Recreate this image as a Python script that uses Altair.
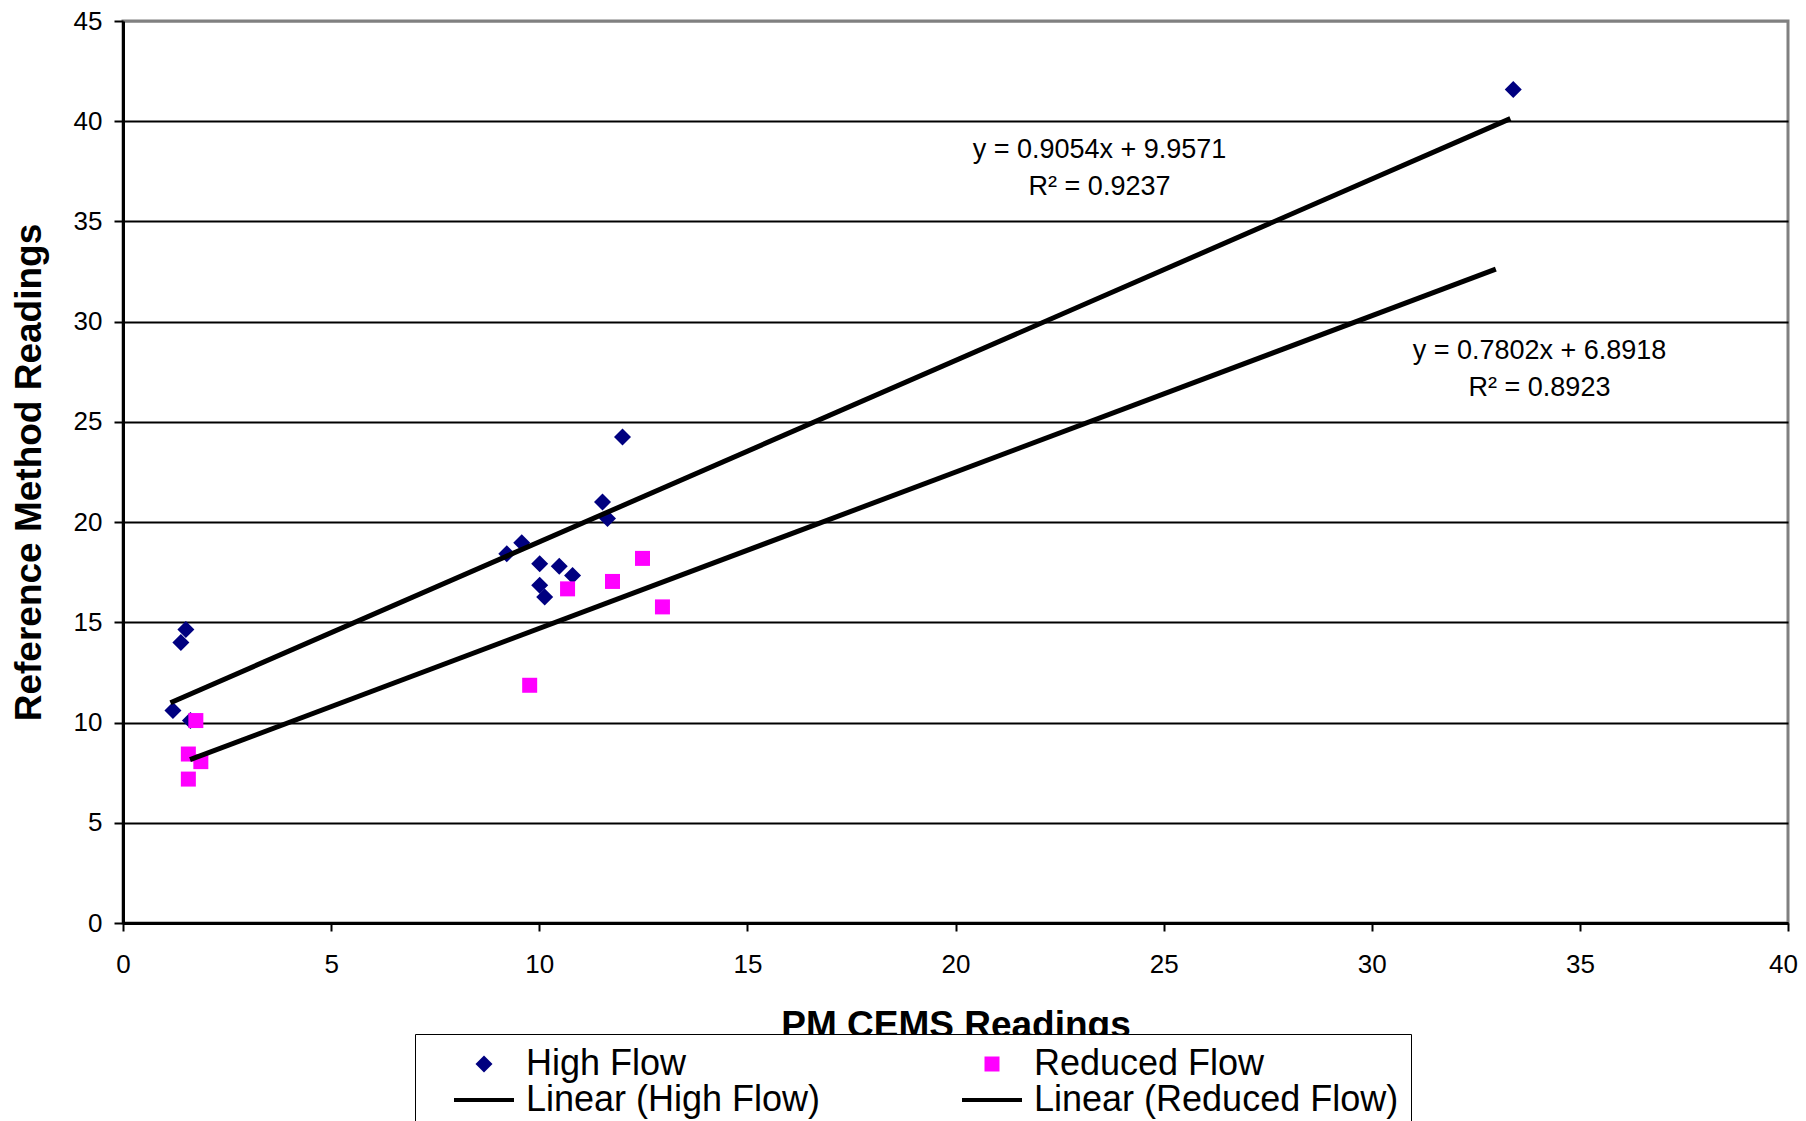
import altair as alt
import pandas as pd

# ---- data ----
high_x = [1.20, 1.39, 1.51, 1.62, 9.22, 9.58, 10.01, 10.01, 10.13, 10.48, 10.80, 11.52, 11.64, 12.00, 33.40]
high_y = [10.60, 14.00, 14.64, 10.10, 18.42, 18.97, 17.92, 16.85, 16.27, 17.80, 17.34, 21.00, 20.18, 24.25, 41.58]
red_x = [1.57, 1.57, 1.75, 1.87, 9.77, 10.68, 11.76, 12.48, 12.96]
red_y = [7.18, 8.43, 10.10, 8.05, 11.86, 16.67, 17.04, 18.19, 15.77]

# trendline end points (Excel linear trendlines)
trend_high_x = [1.14, 33.33]
trend_high_y = [10.99, 40.13]
trend_red_x = [1.61, 32.98]
trend_red_y = [8.15, 32.62]

# legend order (column-major: column 1 = high flow, column 2 = reduced flow)
series = ["High Flow", "Linear (High Flow)", "Reduced Flow", "Linear (Reduced Flow)"]
colors = ["#000080", "#000000", "#FF00FF", "#000000"]
shapes = [
    "M-0.85,0L0,-0.85L0.85,0L0,0.85Z",
    "M-3,-0.2H3V0.2H-3Z",
    "M-0.75,-0.75H0.75V0.75H-0.75Z",
    "M-3,-0.2H3V0.2H-3Z",
]

ann_text = ["y = 0.9054x + 9.9571", "R² = 0.9237", "y = 0.7802x + 6.8918", "R² = 0.8923"]
ann_x = [23.46, 23.46, 34.03, 34.03]
ann_y = [38.55, 36.70, 28.55, 26.70]

x_ticks = [0, 5, 10, 15, 20, 25, 30, 35, 40]
y_ticks = [0, 5, 10, 15, 20, 25, 30, 35, 40, 45]

# ---- tables ----
pts = pd.DataFrame({
    "x": high_x + red_x,
    "y": high_y + red_y,
    "series": ["High Flow"] * len(high_x) + ["Reduced Flow"] * len(red_x),
})
lines = pd.DataFrame({
    "x": trend_high_x + trend_red_x,
    "y": trend_high_y + trend_red_y,
    "series": ["Linear (High Flow)"] * 2 + ["Linear (Reduced Flow)"] * 2,
})
ann = pd.DataFrame({"x": ann_x, "y": ann_y, "text": ann_text})

FONT = "Liberation Sans"

x_enc = alt.X(
    "x:Q",
    scale=alt.Scale(domain=[0, 40], nice=False, zero=False),
    axis=alt.Axis(
        values=x_ticks, title="PM CEMS Readings", grid=False, tickSize=8,
        labelPadding=20, titlePadding=30, labelFlush=False, labelOverlap=False,
        labelOffset={"condition": {"test": "datum.value == 40", "value": -5}, "value": 0},
    ),
)
y_enc = alt.Y(
    "y:Q",
    scale=alt.Scale(domain=[0, 45], nice=False, zero=False),
    axis=alt.Axis(
        values=y_ticks, title="Reference Method Readings", grid=True, tickSize=9,
        labelPadding=12, titlePadding=25, labelFlush=False, labelOverlap=False,
        gridColor={"condition": {"test": "datum.value == 45", "value": "#808080"}, "value": "#000000"},
    ),
)

legend_obj = alt.Legend(
    title=None,
    orient="none",
    legendX=292,
    legendY=1013,
    columns=2,
    columnPadding=114,
    rowPadding=0,
    padding=12,
    symbolSize=400,
    symbolOffset=39,
    symbolStrokeWidth=0,
    symbolOpacity=1,
    labelOffset=24,
    labelFont=FONT,
    labelFontSize=36,
    labelColor="black",
    labelLimit=1000,
    strokeColor="black",
    fillColor="white",
    zindex=3,
)

color_enc = alt.Color("series:N", scale=alt.Scale(domain=series, range=colors), legend=legend_obj)
shape_enc = alt.Shape("series:N", scale=alt.Scale(domain=series, range=shapes), legend=legend_obj)

points = alt.Chart(pts).mark_point(filled=True, size=400, opacity=1, strokeWidth=0).encode(
    x=x_enc, y=y_enc, color=color_enc, shape=shape_enc
)
trend = alt.Chart(lines).mark_line(strokeWidth=5).encode(
    x=x_enc, y=y_enc, color=color_enc
)
texts = alt.Chart(ann).mark_text(
    font=FONT, fontSize=27, color="black", align="center", baseline="middle"
).encode(x=x_enc, y=y_enc, text="text:N")

chart = alt.layer(points, trend, texts).properties(
    width=1665,
    height=902,
    padding={"left": 115, "top": 13, "right": 10, "bottom": 198},
    autosize=alt.AutoSizeParams(type="none"),
).configure_view(
    stroke="#808080", strokeWidth=3
).configure_axis(
    domainColor="black", domainWidth=3, tickColor="black", tickWidth=2,
    labelFont=FONT, labelFontSize=26, labelColor="black",
    titleFont=FONT, titleFontSize=37, titleFontWeight="bold", titleColor="black",
    gridWidth=2,
)

chart.save("out.html", embed_options={"renderer": "svg", "actions": False})
